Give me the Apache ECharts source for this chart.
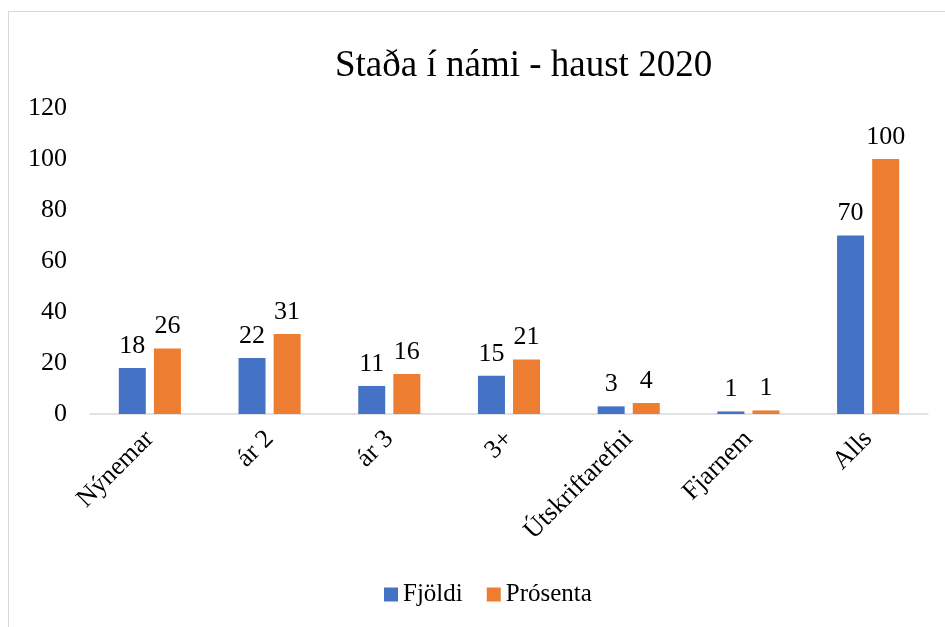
<!DOCTYPE html>
<html>
<head>
<meta charset="utf-8">
<script src="https://cdn.jsdelivr.net/npm/echarts@6/dist/echarts.min.js"></script>
<style>
  html, body { margin: 0; padding: 0; background: #fff; overflow: hidden; }
  #frame { position: absolute; left: 8px; top: 11px; width: 980px; height: 660px; border: 1.5px solid #d9d9d9; }
  #main { position: absolute; left: 0; top: 0; width: 945px; height: 627px; }
</style>
</head>
<body>
<div id="frame"></div>
<div id="main"></div>
<script>
const categories = ['Nýnemar', 'ár 2', 'ár 3', '3+', 'Útskriftarefni', 'Fjarnem', 'Alls'];
const fjoldi = [18, 22, 11, 15, 3, 1, 70];
const prosenta = [25.7, 31.4, 15.7, 21.4, 4.3, 1.4, 100];
const yTicks = [0, 20, 40, 60, 80, 100, 120];

const font = "'Liberation Serif', 'Times New Roman', serif";
const myChart = echarts.init(document.getElementById('main'));

const labelStyle = {
  show: true,
  position: 'top',
  distance: 9,
  color: '#000',
  fontFamily: font,
  fontSize: 26,
  formatter: (p) => Math.round(p.value),
};

const option = {
  animation: false,
  title: {
    text: 'Staða í námi - haust 2020',
    left: 330,
    top: 43,
    textStyle: { fontFamily: font, fontSize: 37, fontWeight: 'normal', color: '#000' },
  },
  legend: {
    bottom: 15,
    left: 379,
    itemWidth: 14,
    itemHeight: 14,
    itemGap: 24,
    icon: 'rect',
    textStyle: { fontFamily: font, fontSize: 25, color: '#000' },
  },
  grid: { left: 90, right: 17, top: 108, bottom: 213 },
  xAxis: {
    type: 'category',
    data: categories,
    axisLine: { lineStyle: { color: '#d9d9d9', width: 1.5 } },
    axisTick: { show: false },
    axisLabel: {
      rotate: 45,
      interval: 0,
      margin: 21,
      color: '#000',
      fontFamily: font,
      fontSize: 26,
    },
  },
  yAxis: {
    type: 'value',
    min: yTicks[0],
    max: yTicks[yTicks.length - 1],
    interval: 20,
    axisLine: { show: false },
    axisTick: { show: false },
    splitLine: { show: false },
    axisLabel: { color: '#000', fontFamily: font, fontSize: 26, margin: 23 },
  },
  series: [
    {
      name: 'Fjöldi',
      type: 'bar',
      data: fjoldi,
      color: '#4472C4',
      barWidth: 27,
      barGap: '30%',
      label: labelStyle,
    },
    {
      name: 'Prósenta',
      type: 'bar',
      data: prosenta,
      color: '#ED7D31',
      barWidth: 27,
      barGap: '30%',
      label: labelStyle,
    },
  ],
};

myChart.setOption(option);
</script>
</body>
</html>
